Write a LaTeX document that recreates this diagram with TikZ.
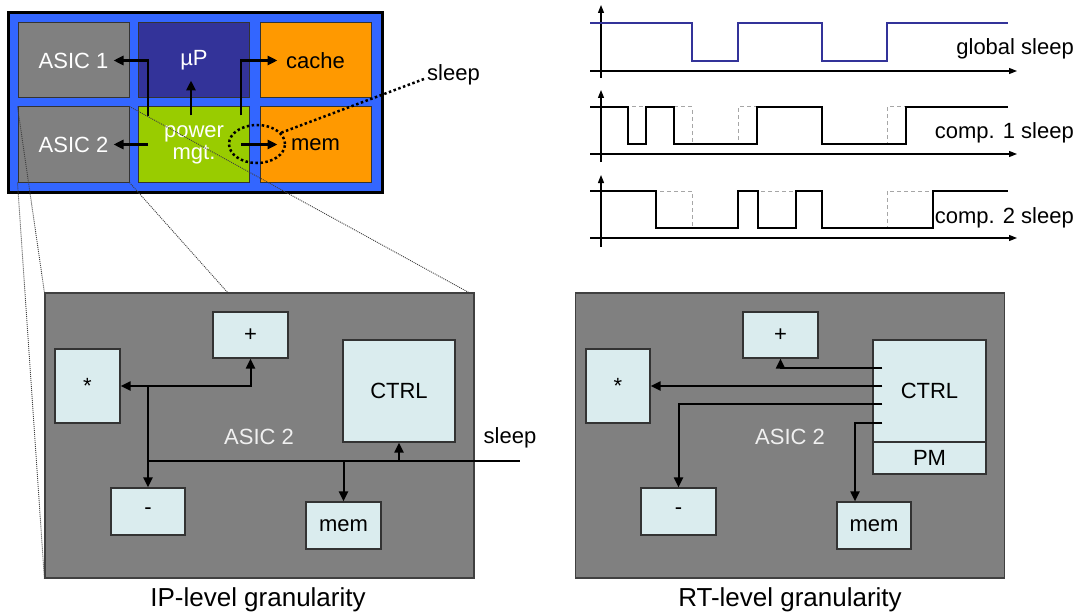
\documentclass[tikz,border=0pt]{standalone}
\usepackage{fontspec}
\setmainfont{Liberation Sans}
\usetikzlibrary{arrows.meta,shapes.geometric}
\definecolor{chipblue}{RGB}{51,102,255}
\definecolor{upblue}{RGB}{51,51,153}
\definecolor{memorange}{RGB}{255,153,0}
\definecolor{pmgreen}{RGB}{153,204,0}
\definecolor{asicgray}{RGB}{128,128,128}
\definecolor{unitfill}{RGB}{218,236,238}
\definecolor{edgegray}{RGB}{51,51,51}
\tikzstyle{lbl}=[font=\fontsize{22}{22}\selectfont, inner sep=0pt]
\tikzstyle{cell}=[lbl, draw=edgegray, line width=1pt, minimum width=111pt, minimum height=75pt, align=center]
\tikzstyle{board}=[draw=black!75, line width=1.2pt, fill=asicgray, minimum width=429pt, minimum height=285pt, inner sep=0pt]
\tikzstyle{unit}=[lbl, draw=edgegray, line width=1.2pt, fill=unitfill]
\tikzstyle{wire}=[line width=2pt]
\tikzstyle{pmarrow}=[line width=2.5pt]
\tikzstyle{dotline}=[line width=2.5pt, dash pattern=on 2.5pt off 2.5pt]
\tikzstyle{zoomline}=[line width=0.9pt, black!75, dash pattern=on 1pt off 1pt]
\tikzstyle{timeaxis}=[line width=1.3pt, -{Triangle[length=8pt,width=6pt]}]
\tikzstyle{sig}=[line width=1.8pt]
\tikzstyle{ghost}=[line width=1pt, gray!70, dash pattern=on 4pt off 3pt]
\tikzstyle{caption}=[font=\fontsize{26}{26}\selectfont, inner sep=0pt]

\begin{document}
\begin{tikzpicture}[x=1pt, y=-1pt, >={Triangle[length=10pt,width=9pt]}]
\useasboundingbox (0,0) rectangle (1092,615);

\node[draw=black, line width=3pt, fill=chipblue, minimum width=374pt, minimum height=179pt] (chip) at (195,102.5) {};
\node[cell, fill=asicgray, text=white] (asic1) at (73.5,60.5) {ASIC 1};
\node[cell, fill=upblue, text=white] (up) at (194,60.5) {µP};
\node[cell, fill=memorange] (cache) at (315.5,60.5) {cache};
\node[cell, fill=asicgray, text=white] (asic2) at (73.5,144.5) {ASIC 2};
\node[cell, fill=pmgreen, text=white] (pwr) at (194,144.5) {power\\mgt.};
\node[cell, fill=memorange] (mem) at (315.5,144.5) {mem};

\draw[pmarrow,->] ([shift={(10,10)}]pwr.north west) |- ([shift={(40,0)}]asic1.center);
\draw[pmarrow,->] ([shift={(-3,9)}]pwr.north) -- ([shift={(-3,-18)}]up.south);
\draw[pmarrow,->] ([shift={(-9,9)}]pwr.north east) |- ([shift={(18,0)}]cache.west);
\draw[pmarrow,->] ([shift={(10,0)}]pwr.west) -- ([shift={(40,0)}]asic2.center);
\draw[pmarrow,->] ([shift={(-9,0)}]pwr.east) -- ([shift={(18,0)}]mem.west);

\node[ellipse, draw, dotline, minimum width=56pt, minimum height=38pt, inner sep=0pt] (pmsel) at (257,144) {};
\node[lbl, anchor=west] (sleeptop) at (427,75) {sleep};
\draw[dotline] (pmsel.25) -- ([shift={(-3,4)}]sleeptop.west);

\node[board] (lbox) at (259.5,435.5) {};
\node[board] (rbox) at (790,435.5) {};

\draw[zoomline] (asic2.north west) -- (lbox.north west);
\draw[zoomline] (asic2.south west) -- (lbox.south west);
\draw[zoomline] (asic2.south east) -- ([shift={(-32,0)}]lbox.north);
\draw[zoomline] (asic2.north east) -- ([shift={(-6,0)}]lbox.north east);

\node[lbl, text=white!94!black] (lname) at (259,437) {ASIC 2};
\node[unit, minimum width=65pt, minimum height=74pt] (lmul) at (87.5,386) {*};
\node[unit, minimum width=75pt, minimum height=46pt] (ladd) at (250.5,335) {+};
\node[unit, minimum width=112pt, minimum height=102pt] (lctrl) at (399,391) {CTRL};
\node[unit, minimum width=74pt, minimum height=47pt] (lsub) at (148,511.5) {-};
\node[unit, minimum width=75pt, minimum height=47pt] (lmem) at (343.5,525.5) {mem};
\node[lbl] (lsleep) at (510,438) {sleep};
\coordinate (lbusw) at (148,461);
\coordinate (lbuse) at (520,461);

\draw[wire] (lbusw) -- (lbuse);
\draw[wire,->] (lsub.north |- lmul.east) -- (lmul.east);
\draw[wire,->] (lsub.north |- lmul.east) -| (ladd.south);
\draw[wire,->] (lsub.north |- lmul.east) -- (lsub.north);
\draw[wire,->] (lmem.north |- lbusw) -- (lmem.north);
\draw[wire,->] (lctrl.south |- lbusw) -- (lctrl.south);

\node[lbl, text=white!94!black] (rname) at (790,437) {ASIC 2};
\node[unit, minimum width=64pt, minimum height=74pt] (rmul) at (618,386) {*};
\node[unit, minimum width=75pt, minimum height=46pt] (radd) at (780.5,335) {+};
\node[unit, minimum width=113pt, minimum height=102pt] (rctrl) at (929.5,391) {CTRL};
\node[unit, minimum width=113pt, minimum height=32pt] (rpm) at (929.5,458) {PM};
\node[unit, minimum width=75pt, minimum height=47pt] (rsub) at (678.5,511.5) {-};
\node[unit, minimum width=74pt, minimum height=47pt] (rmem) at (874,525.5) {mem};

\draw[wire,->] ([shift={(10,-23)}]rctrl.west) -| (radd.south);
\draw[wire,->] ([shift={(10,-5)}]rctrl.west) -- (rmul.east);
\draw[wire,->] ([shift={(10,13)}]rctrl.west) -| (rsub.north);
\draw[wire,->] ([shift={(10,32)}]rctrl.west) -| ([shift={(-19,0)}]rmem.north);

\node[caption] (lcap) at (258,600) {IP-level granularity};
\node[caption] (rcap) at (790,600) {RT-level granularity};

\draw[timeaxis] (601,78) -- (601,5);
\draw[timeaxis] (590,71) -- (1017,71);
\draw[sig, upblue] (590,23) -| (692,61) -| (738,23) -| (822,61) -| (887,23) -- (1008,23);
\node[lbl, anchor=east] (gsleep) at (1074,49) {global sleep};

\draw[timeaxis] (601,162) -- (601,90);
\draw[timeaxis] (590,154) -- (1017,154);
\draw[ghost] (590,107) -| (692,144) -| (738,107) -| (822,144) -| (887,107) -- (1008,107);
\draw[sig] (590,107) -| (628,144) -| (646,107) -| (674,144) -| (757,107) -| (822,144) -| (906,107) -- (1008,107);
\node[lbl, anchor=east] (c1sleep) at (1074,133) {comp. 1 sleep};

\draw[timeaxis] (601,247) -- (601,175);
\draw[timeaxis] (590,238) -- (1017,238);
\draw[ghost] (590,191) -| (692,228) -| (738,191) -| (822,228) -| (887,191) -- (1008,191);
\draw[sig] (590,191) -| (656,228) -| (738,191) -| (758,228) -| (796,191) -| (822,228) -| (933,191) -- (1008,191);
\node[lbl, anchor=east] (c2sleep) at (1074,218) {comp. 2 sleep};
\end{tikzpicture}
\end{document}
